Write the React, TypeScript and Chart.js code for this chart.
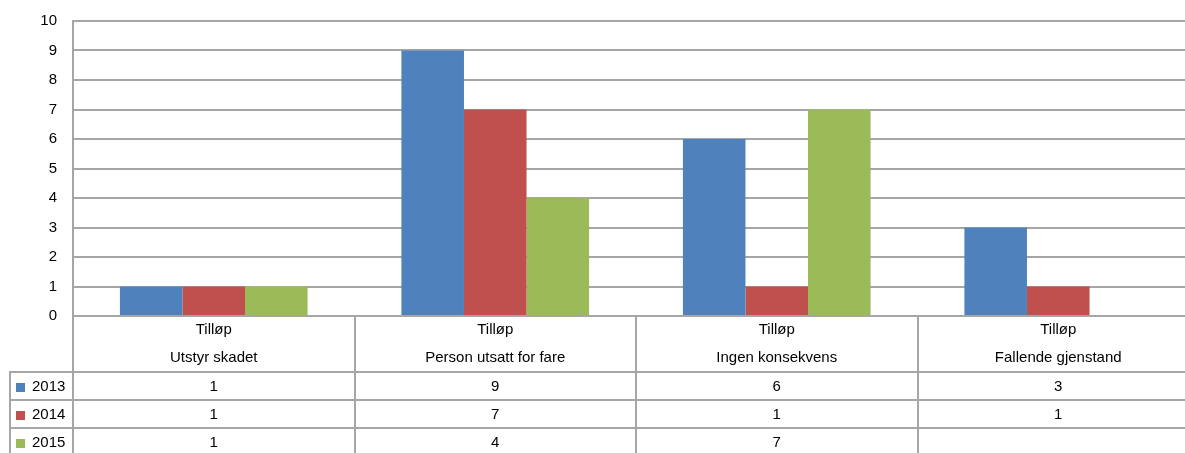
import React, { useEffect, useRef } from "react";
import { Chart, registerables } from "chart.js";

Chart.register(...registerables);

const categories = ["Utstyr skadet", "Person utsatt for fare", "Ingen konsekvens", "Fallende gjenstand"];
const headerLabel = "Tilløp";
const seriesNames = ["2013", "2014", "2015"];
const values2013: (number | null)[] = [1, 9, 6, 3];
const values2014: (number | null)[] = [1, 7, 1, 1];
const values2015: (number | null)[] = [1, 4, 7, null];
const yTicks = [0, 10, 1]; // min, max, step
const seriesColors = ["#4F81BD", "#C0504D", "#9BBB59"];

const FONT = "'Liberation Sans', Arial, sans-serif";
const FONT_SIZE = 15;
const GRID = "#a6a6a6";
const LW = 2;

const tablePlugin = {
  id: "dataTable",
  afterDraw(chart: any) {
    const { ctx, chartArea } = chart;
    const { left, right, bottom } = chartArea;
    const H = chart.height;
    const n = categories.length;
    const cw = (right - left) / n;
    const headerBottom = 372;
    const rowH = 28;
    const legendLeft = 10;
    const allSeries = [values2013, values2014, values2015];

    ctx.save();
    ctx.strokeStyle = GRID;
    ctx.lineWidth = LW;
    ctx.beginPath();
    for (let i = 0; i <= n; i++) {
      const x = Math.round(left + i * cw);
      ctx.moveTo(x, bottom);
      ctx.lineTo(x, H);
    }
    ctx.moveTo(legendLeft, headerBottom);
    ctx.lineTo(legendLeft, H);
    for (let r = 0; r <= allSeries.length; r++) {
      const y = Math.round(headerBottom + r * rowH);
      ctx.moveTo(legendLeft - 1, y);
      ctx.lineTo(right, y);
    }
    ctx.stroke();

    ctx.fillStyle = "#000";
    ctx.font = `${FONT_SIZE}px ${FONT}`;
    ctx.textAlign = "center";
    ctx.textBaseline = "middle";
    for (let i = 0; i < n; i++) {
      const cx = left + (i + 0.5) * cw;
      ctx.fillText(headerLabel, cx, 330);
      ctx.fillText(categories[i], cx, 358);
      allSeries.forEach((s, r) => {
        const v = s[i];
        if (v !== null && v !== undefined) {
          ctx.fillText(String(v), cx, headerBottom + r * rowH + rowH / 2 + 1);
        }
      });
    }
    ctx.textAlign = "left";
    seriesNames.forEach((name, r) => {
      const cy = headerBottom + r * rowH + rowH / 2 + 1;
      ctx.fillStyle = seriesColors[r];
      ctx.fillRect(16, Math.round(cy - 4), 9, 9);
      ctx.fillStyle = "#000";
      ctx.fillText(name, 32, cy);
    });
    ctx.restore();
  },
};

export default function App() {
  const ref = useRef<HTMLCanvasElement>(null);
  useEffect(() => {
    if (!ref.current) return;
    const allSeries = [values2013, values2014, values2015];
    const chart = new Chart(ref.current, {
      type: "bar",
      data: {
        labels: categories,
        datasets: seriesNames.map((name, i) => ({
          label: name,
          data: allSeries[i],
          backgroundColor: seriesColors[i],
          borderWidth: 0,
          categoryPercentage: 3 / 4.5,
          barPercentage: 1,
        })),
      },
      options: {
        animation: false,
        responsive: false,
        maintainAspectRatio: false,
        devicePixelRatio: 1,
        layout: { padding: { top: 21, left: 0, right: 1, bottom: 137 } },
        plugins: { legend: { display: false }, tooltip: { enabled: false } },
        scales: {
          x: { display: false },
          y: {
            min: yTicks[0],
            max: yTicks[1],
            ticks: { stepSize: yTicks[2], color: "#000", padding: 16, font: { family: FONT, size: FONT_SIZE } },
            grid: { color: GRID, lineWidth: LW, drawTicks: false },
            border: { color: GRID, width: LW },
            afterFit(scale: any) {
              scale.width = 73;
              scale.paddingTop = 0;
              scale.paddingBottom = 0;
            },
          },
        },
      },
      plugins: [tablePlugin],
    });
    return () => chart.destroy();
  }, []);
  return (
    <div style={{ position: "fixed", left: 0, top: 0, width: 1185, height: 453, overflow: "hidden", background: "#fff" }}>
      <canvas ref={ref} width={1200} height={453} style={{ display: "block" }} />
    </div>
  );
}
